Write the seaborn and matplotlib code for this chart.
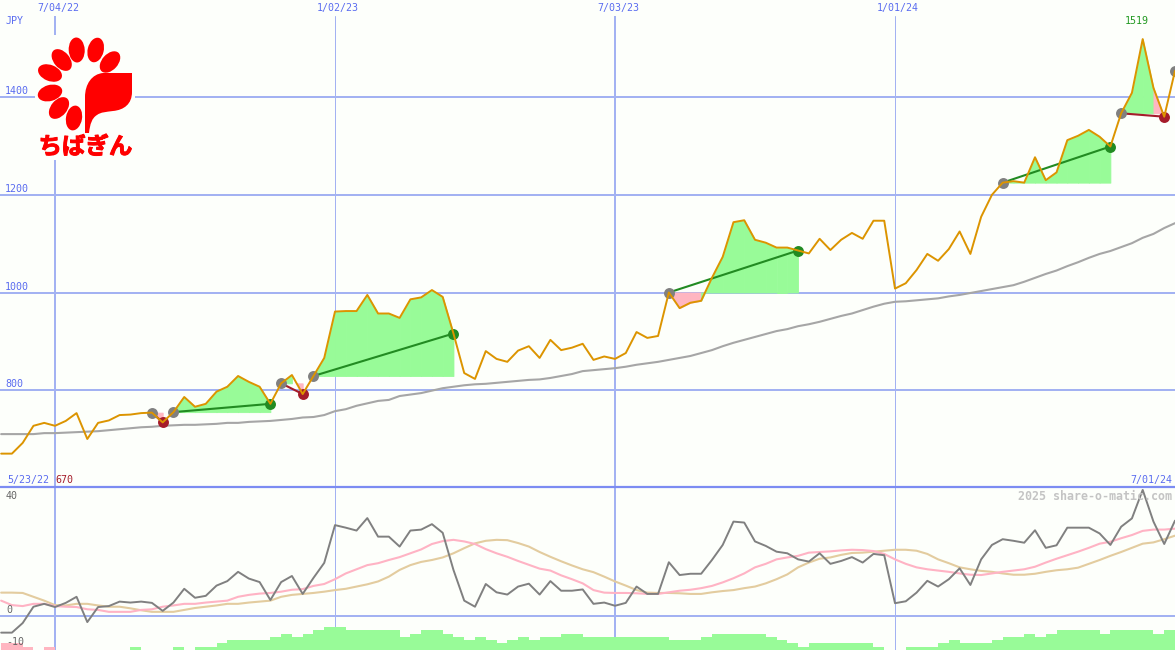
# weekly share price chart with momentum panel
import numpy as np
import matplotlib
matplotlib.use("Agg")
import matplotlib.pyplot as plt
import matplotlib.patheffects as pe
from matplotlib.patches import Ellipse, PathPatch, Rectangle
from matplotlib.path import Path
import seaborn as sns

# weeks are counted from 7/04/22
weeks = np.arange(-5, 105)

price = [670, 670, 692, 727, 733, 727, 737, 753, 700, 733, 738, 749, 750, 753, 754, 734, 755, 786, 766, 772,
         797, 807, 829, 817, 807, 772, 814, 831, 792, 829, 866, 961, 962, 962, 995, 957, 957, 948,
         986, 990, 1005, 991, 916, 835, 823, 880, 864, 858, 881, 890, 866, 903, 882, 887, 895, 862, 869, 864,
         876, 919, 907, 911, 1000, 968, 979, 983, 1030, 1073, 1144, 1148, 1108, 1102, 1092, 1092, 1086,
         1080, 1110, 1087, 1108, 1122, 1110, 1147, 1147, 1008, 1019, 1046, 1079, 1065, 1089, 1125, 1079, 1155,
         1200, 1225, 1228, 1225, 1277, 1230, 1246, 1312, 1321, 1333, 1319, 1299, 1367, 1409, 1519, 1419, 1360, 1454]

long_avg = [710, 710, 710, 710, 712, 712, 713, 714, 715, 716, 718, 720, 722, 724, 725, 727, 728, 729, 729, 730,
            731, 733, 733, 735, 736, 737, 739, 741, 744, 745, 749, 757, 761, 768, 773, 778, 780, 788,
            791, 794, 799, 804, 807, 810, 812, 813, 815, 817, 819, 821, 822, 825, 829, 833, 839, 841, 843, 845,
            848, 852, 855, 858, 862, 866, 870, 876, 882, 890, 897, 903, 909, 915, 921, 925, 931,
            935, 940, 946, 952, 957, 964, 971, 977, 981, 982, 984, 986, 988, 992, 995, 999, 1003,
            1007, 1011, 1015, 1022, 1030, 1038, 1045, 1054, 1062, 1071, 1079, 1085, 1093, 1101, 1112, 1120, 1132, 1142]

momentum = [-5.2, -5.2, -2.2, 2.9, 3.8, 2.8, 4.1, 6.0, -1.9, 2.8, 3.1, 4.5, 4.2, 4.5, 4.1, 1.6, 4.2, 8.5, 5.7, 6.3,
            9.5, 10.9, 13.8, 11.7, 10.6, 5.0, 10.6, 12.5, 6.9, 11.9, 16.6, 28.4, 27.6, 26.7, 30.6, 24.8, 24.8, 21.7,
            26.7, 27.0, 28.7, 26.0, 14.4, 4.8, 2.9, 10.0, 7.4, 6.7, 9.2, 10.1, 6.7, 10.9, 7.9, 7.9, 8.3, 3.8, 4.2, 3.2,
            4.1, 9.2, 6.9, 6.9, 16.8, 12.8, 13.2, 13.2, 17.5, 22.2, 29.5, 29.2, 23.3, 21.9, 20.1, 19.6, 17.7,
            17.0, 19.6, 16.3, 17.2, 18.4, 16.7, 19.4, 19.0, 4.0, 4.6, 7.3, 11.0, 9.2, 11.5, 14.9, 9.7, 17.7,
            22.2, 24.0, 23.5, 22.9, 26.8, 21.3, 22.1, 27.6, 27.6, 27.6, 25.8, 22.2, 27.9, 30.5, 39.4, 29.5, 22.5, 29.8]

fast_avg = [4.8, 3.4, 3.1, 3.8, 3.8, 3.1, 2.9, 2.8, 2.1, 1.9, 1.3, 1.3, 1.3, 1.9, 2.1, 2.9, 3.3, 3.8, 3.8, 4.2,
            4.5, 4.8, 6.0, 6.6, 7.0, 7.2, 7.6, 8.2, 8.4, 9.4, 10.0, 11.5, 13.3, 14.6, 15.9, 16.5, 17.5, 18.4,
            19.6, 20.8, 22.5, 23.4, 23.8, 23.3, 22.5, 20.9, 19.6, 18.5, 17.2, 16.0, 14.8, 14.2, 12.7, 11.5, 10.2, 8.1, 7.3, 7.2,
            7.2, 7.1, 6.9, 6.9, 7.4, 7.9, 8.2, 8.7, 9.4, 10.5, 11.8, 13.3, 15.2, 16.3, 17.7, 18.3, 18.8,
            19.8, 20.0, 20.2, 20.5, 20.7, 20.6, 20.3, 19.4, 17.7, 16.3, 15.2, 14.6, 14.2, 13.8, 13.3, 12.9, 12.8,
            13.3, 13.8, 14.2, 14.6, 15.4, 16.7, 17.9, 19.0, 20.1, 21.3, 22.6, 23.2, 24.3, 25.3, 26.6, 27.0, 27.0, 27.3]

slow_avg = [7.3, 7.3, 7.2, 6.0, 4.8, 3.4, 3.3, 3.8, 3.8, 3.3, 2.9, 2.9, 2.4, 1.8, 1.3, 1.3, 1.3, 1.9, 2.5, 2.9,
            3.3, 3.8, 3.8, 4.2, 4.5, 4.8, 6.0, 6.6, 6.9, 7.2, 7.6, 8.1, 8.5, 9.2, 9.9, 10.8, 12.3, 14.4,
            15.9, 16.9, 17.5, 18.3, 19.6, 21.2, 22.7, 23.5, 23.8, 23.7, 22.8, 21.7, 20.0, 18.5, 17.1, 15.8, 14.6, 13.7, 12.3, 10.8,
            9.5, 8.1, 7.3, 7.2, 7.2, 7.1, 6.9, 6.9, 7.4, 7.8, 8.1, 8.7, 9.2, 10.2, 11.5, 13.0, 15.2,
            16.7, 17.9, 18.3, 19.1, 19.7, 19.8, 20.1, 20.4, 20.7, 20.7, 20.4, 19.4, 17.7, 16.5, 15.2, 14.6, 14.1,
            13.8, 13.3, 12.9, 12.9, 13.2, 13.8, 14.3, 14.6, 15.1, 16.3, 17.5, 18.8, 20.0, 21.3, 22.6, 23.0, 24.0, 25.1]

# bars along the bottom, negative ones are pink
strength = [-2, -2, -1, 0, -1, 0, 0, 0, 0, 0, 0, 0, 1, 0, 0, 0, 1, 0, 1, 1,
            2, 3, 3, 3, 3, 4, 5, 4, 5, 6, 7, 7, 6, 6, 6, 6, 6, 4,
            5, 6, 6, 5, 4, 3, 4, 3, 2, 3, 4, 3, 4, 4, 5, 5, 4, 4, 4, 4,
            4, 4, 4, 4, 3, 3, 3, 4, 5, 5, 5, 5, 5, 4, 3, 2, 1,
            2, 2, 2, 2, 2, 2, 1, 0, 0, 1, 1, 1, 2, 3, 2, 2, 2,
            3, 4, 4, 5, 4, 5, 6, 6, 6, 6, 5, 6, 6, 6, 6, 5, 6, 0]

# trades: week bought, week sold
entry_weeks = [9, 11, 21, 24, 57, 88, 99]
exit_weeks = [10, 20, 23, 37, 69, 98, 103]
open_weeks = [104]

date_labels = ["7/04/22", "1/02/23", "7/03/23", "1/01/24"]
date_weeks = [0, 26, 52, 78]
price_ticks = [1400, 1200, 1000, 800]
momentum_ticks = [40, 0, -10]

GRID = "#A3B2F2"
BLUE = "#5A6CF0"
GREEN_FILL = "#98FB98"
PINK_FILL = "#FFB6C1"
BG = "#FDFFFB"

sns.set_theme(style="white")
plt.rcParams["font.family"] = ["DejaVu Sans Mono"]

price = np.array(price, dtype=float)
W, H = 1175, 650
fig = plt.figure(figsize=(W / 100, H / 100), dpi=100, facecolor=BG)


def pane(top, bottom):
    a = fig.add_axes([0, 1 - bottom / H, 1, (bottom - top) / H])
    a.axis("off")
    return a


ax = pane(16, 487)
osc = pane(487, 650)
xlim = (-55 / 10.769, 104)

# grid
for w, val in zip(date_weeks, [2, 1, 2, 1]):
    ax.axvline(w, color=GRID, lw=val * 0.72, zorder=1)
    osc.axvline(w, color=GRID, lw=val * 0.72, zorder=1)
for t in price_ticks:
    ax.axhline(t, color=GRID, lw=1.44, zorder=1)
osc.axhline(0, color=GRID, lw=1.44, zorder=1)
osc.axhline(40.3, color="#7C8CF2", lw=1.6, zorder=1, clip_on=False)

# trades, each week is coloured by where it closes against the entry price
for a, b in zip(entry_weeks, exit_weeks):
    i, j = a + 5, b + 5
    level = price[i]
    for s in range(i, j):
        xs = weeks[s:s + 2]
        ys = price[s:s + 2]
        c = GREEN_FILL if ys[1] >= level else PINK_FILL
        if ys[0] > level > ys[1] and b != exit_weeks[-1]:
            # falling through the entry price: only the part below it is shaded
            ax.fill_between(xs, ys, level, where=ys <= level, interpolate=True, color=c, lw=0.6, zorder=2)
            continue
        ax.fill_between(xs, ys, level, color=c, lw=0.6, zorder=2)

sns.lineplot(x=weeks, y=long_avg, color="#A6A6A6", linewidth=1.5, errorbar=None, ax=ax, zorder=3)

for a, b in zip(entry_weeks, exit_weeks):
    won = price[b + 5] >= price[a + 5]
    c = "#228B22" if won else "#A51C2A"
    sns.lineplot(x=[a, b], y=[price[a + 5], price[b + 5]], color=c, linewidth=1.5, errorbar=None, ax=ax, zorder=4)
    sns.scatterplot(x=[a], y=[price[a + 5]], color="#808080", s=62, linewidth=0, ax=ax, zorder=4)
    sns.scatterplot(x=[b], y=[price[b + 5]], color=c, s=62, linewidth=0, ax=ax, zorder=4)
sns.scatterplot(x=open_weeks, y=price[np.array(open_weeks) + 5], color="#808080", s=62, linewidth=0, ax=ax, zorder=4)

sns.lineplot(x=weeks, y=price, color="#DC9400", linewidth=1.4, errorbar=None, ax=ax, zorder=5)
ax.set_xlim(xlim)
ax.set_ylim(1000 + (292.5 - 487) * 2.048, 1000 + (292.5 - 16) * 2.048)

# lower panel
sns.lineplot(x=weeks, y=slow_avg, color="#E3CC9F", linewidth=1.5, errorbar=None, ax=osc, zorder=3)
sns.lineplot(x=weeks, y=fast_avg, color="#FFB3C4", linewidth=1.5, errorbar=None, ax=osc, zorder=3)
sns.lineplot(x=weeks, y=momentum, color="#808080", linewidth=1.4, errorbar=None, ax=osc, zorder=4)
osc.set_xlim(xlim)
osc.set_ylim((616 - 650) / 3.2, (616 - 487) / 3.2)

bars = osc.twinx()
bars.axis("off")
bars.bar(weeks, np.abs(strength), width=1, align="edge",
         color=[GREEN_FILL if s > 0 else PINK_FILL for s in strength], lw=0)
bars.set_xlim(xlim)
bars.set_ylim(0, 163 / 3.3)

# overlay in pixels: logo and labels
top = fig.add_axes([0, 0, 1, 1], zorder=10)
top.set_xlim(0, W)
top.set_ylim(H, 0)
top.axis("off")

top.add_patch(Rectangle((35, 35), 100, 125, color=BG, lw=0))
for cx, cy, ang in [(76.7, 50, -3), (95.7, 50, 14), (110, 62, 42), (61.7, 60, -40),
                    (50, 73, -68), (50, 93, 74), (59, 108, 40), (74, 118, 10)]:
    top.add_patch(Ellipse((cx, cy), 16, 25, angle=ang, color="#FF0000", lw=0))
leaf = Path([(132, 73), (103, 73), (92, 74), (85, 84), (85, 97), (85, 133), (89, 133),
             (90, 124), (92, 118), (97, 115), (101, 112), (106, 112), (113, 111),
             (124, 110), (132, 104), (132, 92), (132, 73)],
            [Path.MOVETO, Path.LINETO, Path.CURVE4, Path.CURVE4, Path.CURVE4, Path.LINETO, Path.LINETO,
             Path.CURVE4, Path.CURVE4, Path.CURVE4, Path.CURVE4, Path.CURVE4, Path.CURVE4,
             Path.CURVE4, Path.CURVE4, Path.CURVE4, Path.CLOSEPOLY])
top.add_patch(PathPatch(leaf, color="#FF0000", lw=0))
top.text(85.5, 147, "ちばぎん", color="#FF0000", fontsize=16.9, fontweight="bold",
         family=["Noto Sans CJK JP"], ha="center", va="center",
         path_effects=[pe.withStroke(linewidth=0.7, foreground="#FF0000")])


def label(x, y, s, c=BLUE, ha="left", **kw):
    top.text(x, y, s, color=c, fontsize=7.2, ha=ha, va="center", **kw)


for w, s in zip(date_weeks, date_labels):
    label(58 + w * 10.769, 8, s, ha="center")
label(6, 21, "JPY")
for t in price_ticks:
    label(5, 292.5 - (t - 1000) / 2.048 - 6, str(t))
label(1125, 21, "1519", c="#229922")
label(7, 480, "5/23/22")
label(55, 480, "670", c="#A51C2A")
label(1172, 480, "7/01/24", ha="right")
for t, yy in zip(momentum_ticks, [496, 610, 642]):
    label(6, yy, str(t), c="#666666")
top.text(1172, 496, "2025 share-o-matic.com", color="#C4C4C4", fontsize=8.4, fontweight="bold",
         ha="right", va="center")

fig.savefig("out.png", dpi=100, facecolor=BG)
